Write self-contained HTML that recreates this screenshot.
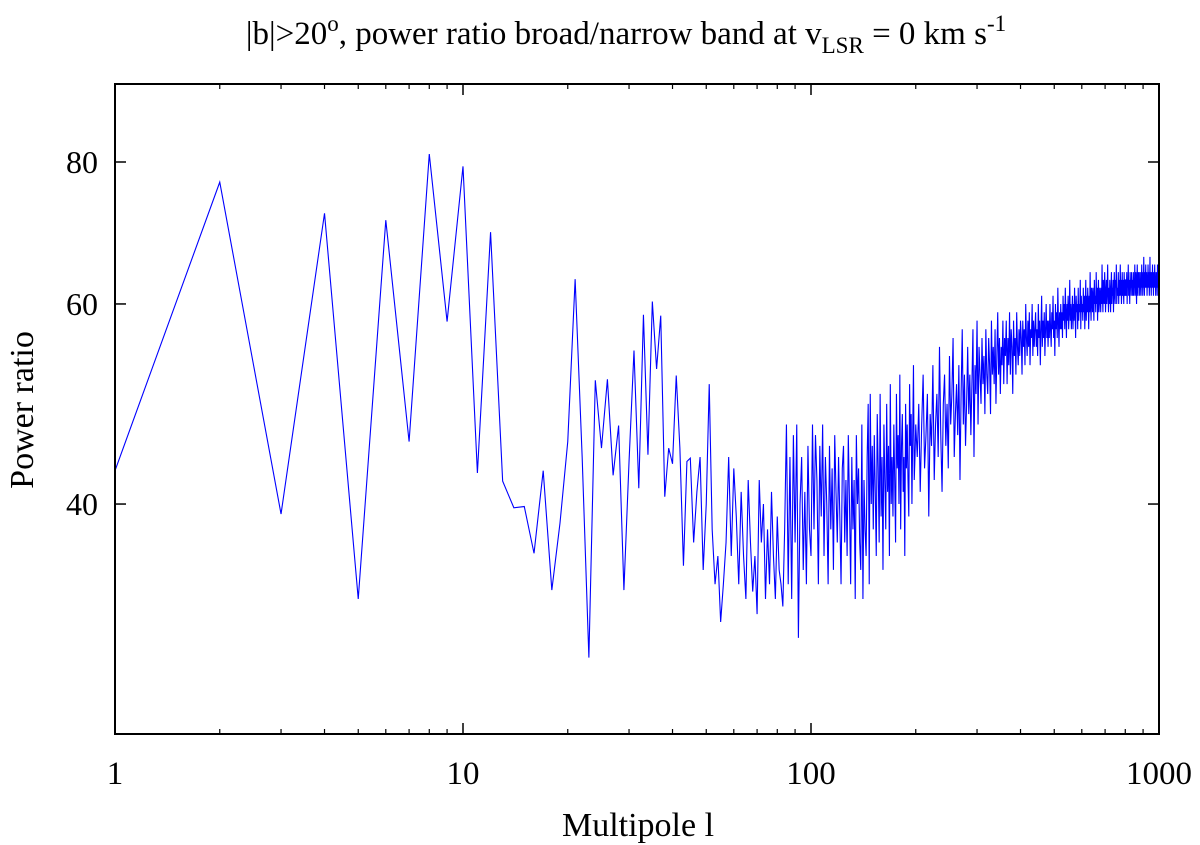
<!DOCTYPE html>
<html><head><meta charset="utf-8"><style>
html,body{margin:0;padding:0;background:#fff;}
svg{display:block;font-family:"Liberation Serif",serif;}
</style></head><body>
<svg id="chart" width="1200" height="845" viewBox="0 0 1200 845" xmlns="http://www.w3.org/2000/svg">
<text x="626" y="44" font-size="33" text-anchor="middle">|b|&gt;20<tspan dy="-13" font-size="23">o</tspan><tspan dy="13">, power ratio broad/narrow band at v</tspan><tspan dy="9" font-size="23">LSR</tspan><tspan dy="-9"> = 0 km s</tspan><tspan dy="-13" font-size="23">-1</tspan></text>
<g id="axes"></g>
<g id="series"></g>
<rect x="115" y="84" width="1044" height="650" fill="none" stroke="#000" stroke-width="2"/>
<text x="638" y="836" font-size="34" text-anchor="middle">Multipole l</text>
<text transform="translate(33,410) rotate(-90)" font-size="34" text-anchor="middle">Power ratio</text>
</svg>
<script>
const xTicks = [1, 10, 100, 1000];
const xTickLabels = ["1", "10", "100", "1000"];
const yTicks = [40, 60, 80];
const yTickLabels = ["40", "60", "80"];
const valuesLow = [
42.8,76.8,39.2,72.1,33.0,71.1,45.4,81.3,57.9,79.3,42.6,69.4,41.9,39.7,39.8,36.2,42.8,33.6,38.5,45.4,
63.1,44,29.3,51.4,44.8,51.5,42.4,46.9,33.6,43.6,54.6,41.3,58.7,44.2,60.3,52.6,58.6,40.6,44.8,43.4,
51.9,44.8,35.3,43.6,43.9,37.0,
41,44,35,40,51,38,34,36,31.5,34,37,44,36,43,39,34,41,36,33,42,37,33.5,36,32,42,37,40,33,38,34,41,36,33,39,35,34,32.5,38,47,34,44,33,46,37,47,30.5,40,44,35,41,34,45,38,36,
47,38,46,42,34,45,39,47,36,44,40,34,45,38,43,35,46,41,37,44,39,34,43,45,37,42,36,46,40,34,44,38,42,33,46,40,43,37,35,47,
33,42,38,36,44,49,34,50,40,45,
38,46,41,36,48,43,37,50,39,44,35,47,42,38,49,41,45,36,51,40,
44,39,47,42,37,50,43,46,40,52,38,45,48,41,44,36,49,43,47,42,
39,51,45,48,40,46,53,42,44,47
];
const valuesHigh = [
44,49,41,47,52,43,46,50,39,48,45,53,42,47,50,44,55,46,41,49,
52,45,49,43,54,47,50,56,44,48,51,46,53,42,50,57,47,52,45,49,
55,48,52,46,51,57,44,53,50,58,47,55,52,49,56,51,54,48,57,52,
50,56,53,48,58,52,55,51,57,49,54,59,52,56,50,55,53,58,51,56,
54,58,51,56,53,59,52,57,55,50,58,54,56,52,59,55,53,57,54,58,
56,52,58,55,57,53,60,56,54,58,55,59,53,57,56,60,54,58,55,57,
59,55,57,54,60,56,58,53,57,61,55,58,56,59,54,57,60,56,58,55,
58,56,60,57,55,59,57,61,56,58,54,60,57,59,56,62,58,55,59,57,
60,57,59,56,61,58,60,57,62,59,56,60,58,61,57,59,63,58,60,57,
59,61,57,60,58,62,59,56,61,59,60,57,62,58,60,59,63,57,61,59,
60,58,62,59,61,57,60,63,58,61,59,62,60,57,61,59,64,60,58,62,
61,59,62,60,58,63,60,61,59,64,60,62,58,61,63,59,60,62,61,59,
62,60,65,61,59,63,61,60,64,62,59,61,63,60,62,65,61,59,62,60,
63,61,59,62,64,60,62,61,63,59,62,64,61,60,63,62,65,60,62,61,
62,64,60,63,61,62,65,61,63,60,62,64,61,63,62,60,64,62,61,63,
63,61,62,64,60,63,62,65,61,63,62,60,64,62,63,61,64,62,63,61,
62,64,61,63,62,65,61,63,64,62,60,63,65,62,61,64,63,62,64,61,
63,62,64,61,63,65,62,64,61,63,62,66,63,61,64,62,63,65,62,63,
64,61,63,62,65,63,62,64,61,63,66,62,64,63,61,64,62,63,65,62,
63,61,64,62,63,65,62,64,61,63,62,64,63,61,65,62,63,62,64,62
];
// multipoles: l = 1..200 for valuesLow, l = 202..1000 (step 2) for valuesHigh
const multipoles = [];
for (let i = 0; i < valuesLow.length; i++) multipoles.push(i + 1);
for (let i = 0; i < valuesHigh.length; i++) multipoles.push(202 + 2 * i);
const values = valuesLow.concat(valuesHigh);

const L = 115, R = 1159, T = 84, B = 734;
const X_MIN = 1, X_MAX = 1000, Y_MIN = 25.1, Y_MAX = 93.7;
function xScale(v){ return L + (Math.log10(v) - Math.log10(X_MIN)) / (Math.log10(X_MAX) - Math.log10(X_MIN)) * (R - L); }
function yScale(v){ return B - (Math.log(v) - Math.log(Y_MIN)) / (Math.log(Y_MAX) - Math.log(Y_MIN)) * (B - T); }

const NS = "http://www.w3.org/2000/svg";
const axes = document.getElementById('axes');
function mk(tag, attrs, parent){ const e = document.createElementNS(NS, tag); for (const k in attrs) e.setAttribute(k, attrs[k]); parent.appendChild(e); return e; }

xTicks.forEach((t, i) => {
  const x = xScale(t);
  const b = mk('line', {x1:x, x2:x, y1:B, y2:B-11, stroke:'#000', 'stroke-width':1.5}, axes);
  
  
  const tp = mk('line', {x1:x, x2:x, y1:T, y2:T+11, stroke:'#000', 'stroke-width':1.5}, axes);
  
  
  const lb = mk('text', {x:x, y:784, 'font-size':33, 'text-anchor':'middle'}, axes);
  lb.textContent = xTickLabels[i];
  
  
  if (i < xTicks.length - 1) {
    for (let m = 2; m <= 9; m++) {
      const xm = xScale(t * m);
      const a = mk('line', {x1:xm, x2:xm, y1:B, y2:B-5, stroke:'#000', 'stroke-width':1.2}, axes);
      
      
      const c = mk('line', {x1:xm, x2:xm, y1:T, y2:T+5, stroke:'#000', 'stroke-width':1.2}, axes);
      
      
    }
  }
});
yTicks.forEach((t, i) => {
  const y = yScale(t);
  const a = mk('line', {x1:L, x2:L+11, y1:y, y2:y, stroke:'#000', 'stroke-width':1.5}, axes);
  
  
  const c = mk('line', {x1:R, x2:R-11, y1:y, y2:y, stroke:'#000', 'stroke-width':1.5}, axes);
  
  
  const lb = mk('text', {x:98, y:y+11, 'font-size':32, 'text-anchor':'end'}, axes);
  lb.textContent = yTickLabels[i];
  
  
});

const series = document.getElementById('series');
let d = '';
for (let i = 0; i < values.length; i++) {
  d += (i ? 'L' : 'M') + xScale(multipoles[i]).toFixed(2) + ' ' + yScale(values[i]).toFixed(2);
}
const line = mk('path', {d:d, fill:'none', stroke:'#0000ff', 'stroke-width':1.1, 'stroke-linejoin':'miter'}, series);


</script>
</body></html>
